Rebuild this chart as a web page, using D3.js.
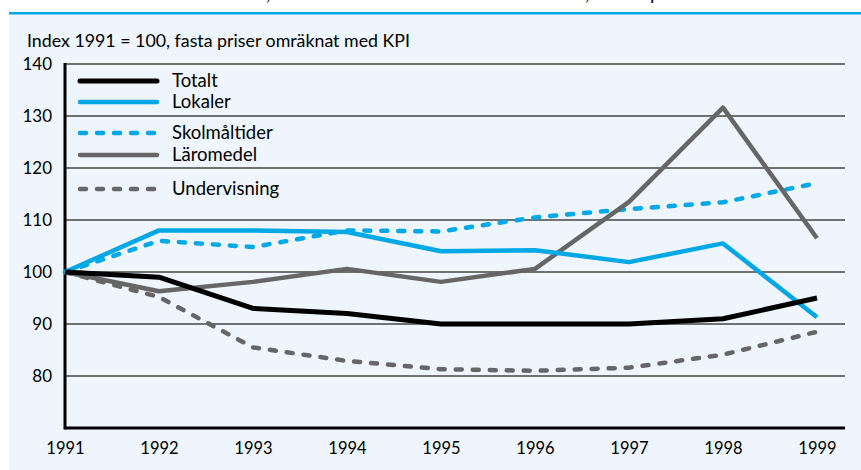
<!DOCTYPE html>
<html>
<head>
<meta charset="utf-8">
<script src="https://cdn.jsdelivr.net/npm/d3@7"></script>
<style>
  html, body { margin: 0; padding: 0; background: #ffffff; }
  svg { display: block; font-family: Lato, "Open Sans", sans-serif; }
</style>
</head>
<body>
<svg id="chart" width="861" height="470"></svg>
<script>
const years = [1991, 1992, 1993, 1994, 1995, 1996, 1997, 1998, 1999];
const totalt       = [100, 99, 93, 92, 90, 90, 90, 91, 95];
const lokaler      = [100, 108, 108, 107.7, 104, 104.2, 101.9, 105.5, 91.3];
const skolmaltider = [100, 106, 104.8, 108, 107.8, 110.5, 112.1, 113.4, 117.1];
const laromedel    = [100, 96.3, 98.1, 100.6, 98.1, 100.6, 113.5, 131.6, 106.5];
const undervisning = [100, 95.2, 85.5, 82.9, 81.3, 81, 81.6, 84.1, 88.5];
const yTicks = [80, 90, 100, 110, 120, 130, 140];
const seriesNames = ["Totalt", "Lokaler", "Skolmåltider", "Läromedel", "Undervisning"];
const subtitle = "Index 1991 = 100, fasta priser omräknat med KPI";
// only the descenders of the (cropped) title line are visible in the picture
const titleFragments = [",", ",", "p"];

const series = [
  { name: seriesNames[0], values: totalt,       color: "#000000", dash: null,   width: 5 },
  { name: seriesNames[1], values: lokaler,      color: "#00a8e6", dash: null,   width: 4.5 },
  { name: seriesNames[2], values: skolmaltider, color: "#00a8e6", dash: "6 11", width: 4.5 },
  { name: seriesNames[3], values: laromedel,    color: "#666666", dash: null,   width: 4.5 },
  { name: seriesNames[4], values: undervisning, color: "#666666", dash: "6 11", width: 4.5 }
];

const svg = d3.select("#chart");

// cropped title remnants
const fragX = [266, 585, 650];
svg.append("g").selectAll("text").data(titleFragments).join("text")
  .attr("x", (d, i) => fragX[i]).attr("y", 0)
  .attr("font-size", 19).attr("fill", "#000").text(d => d);

// panel background and top rule
svg.append("rect").attr("x", 9).attr("y", 14).attr("width", 852).attr("height", 456).attr("fill", "#eef5fc");
svg.append("rect").attr("x", 9).attr("y", 12).attr("width", 852).attr("height", 2.5).attr("fill", "#00a8e6");

const x = d3.scalePoint().domain(years).range([65, 817]);
const y = d3.scaleLinear().domain([70, 140]).range([428, 64]);
const xRight = 845;

svg.append("text").attr("x", 27).attr("y", 47).attr("font-size", 17.5)
  .attr("textLength", 383).attr("lengthAdjust", "spacingAndGlyphs")
  .attr("fill", "#000").text(subtitle);

// gridlines
svg.append("g").selectAll("line").data(yTicks).join("line")
  .attr("x1", x(years[0])).attr("x2", xRight)
  .attr("y1", d => y(d)).attr("y2", d => y(d))
  .attr("stroke", "#444").attr("stroke-width", 1.4);

// y axis
const yAxis = d3.axisLeft(y).tickValues(yTicks).tickSize(0).tickPadding(13).tickFormat(d3.format("d"));
const gy = svg.append("g").attr("transform", `translate(${x(years[0])},0)`).call(yAxis);
gy.select(".domain").remove();
gy.selectAll("text").attr("font-size", 17).attr("font-family", "Lato, sans-serif").attr("fill", "#000");

// x axis
const xAxis = d3.axisBottom(x).tickSize(0).tickPadding(14).tickFormat(d3.format("d"));
const gx = svg.append("g").attr("transform", `translate(0,${y(70)})`).call(xAxis);
gx.select(".domain").remove();
gx.selectAll("text").attr("font-size", 16.5).attr("font-family", "Lato, sans-serif").attr("fill", "#000");

// axis lines
svg.append("line").attr("x1", x(years[0])).attr("x2", xRight).attr("y1", y(70)).attr("y2", y(70))
  .attr("stroke", "#000").attr("stroke-width", 3);
svg.append("line").attr("x1", x(years[0])).attr("x2", x(years[0])).attr("y1", y(140) - 1).attr("y2", y(70) + 1.5)
  .attr("stroke", "#000").attr("stroke-width", 3);

// series lines
const line = d3.line().x((d, i) => x(years[i])).y(d => y(d));
const drawOrder = [4, 2, 3, 1, 0];
drawOrder.forEach(k => {
  const s = series[k];
  svg.append("path").datum(s.values).attr("d", line)
    .attr("fill", "none").attr("stroke", s.color).attr("stroke-width", s.width)
    .attr("stroke-linejoin", "round").attr("stroke-linecap", s.dash ? "round" : "butt")
    .attr("stroke-dasharray", s.dash);
});

// legend
const legendY = [81, 102, 133, 155, 189];
const lg = svg.append("g");
series.forEach((s, i) => {
  lg.append("line").attr("x1", 80).attr("x2", 157).attr("y1", legendY[i]).attr("y2", legendY[i])
    .attr("stroke", s.color).attr("stroke-width", s.width).attr("stroke-linecap", "round")
    .attr("stroke-dasharray", s.dash);
  lg.append("text").attr("x", 172).attr("y", legendY[i] + 6).attr("font-size", 18.5).attr("fill", "#000").text(s.name);
});
</script>
</body>
</html>
